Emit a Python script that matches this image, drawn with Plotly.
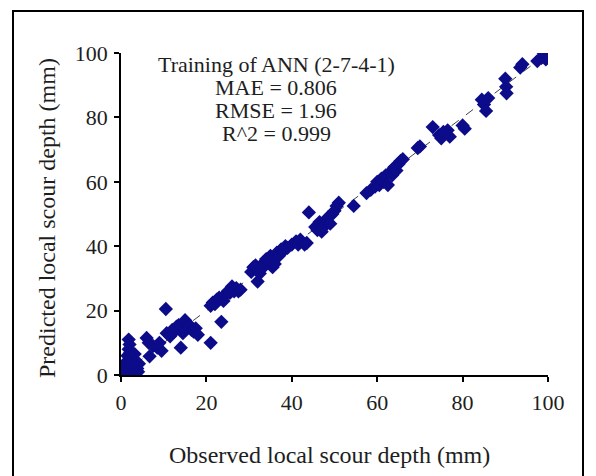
import plotly.graph_objects as go

# observed vs predicted local scour depth (mm)
observed = [
    0, 0.5, 1, 1.2, 1.5, 1.8, 1.8, 2, 2.2, 2.5, 2.8, 3, 3.2, 3.5, 3.8, 4, 4.2, 2.5, 3.5, 1,
    6, 6.5, 6.7, 7.5, 8.5, 9.5, 9,
    10.5, 10.7, 11.5, 12, 12.5, 13, 13.5, 14, 14.5, 15, 15.5, 16, 16.5, 17, 17.5, 18,
    21, 21, 21.5, 22, 22.5, 23, 23.5, 24, 24.5, 25, 25.5, 26, 26.5, 27, 27.5, 28,
    30.5, 31, 31.5, 32, 32.5, 33, 33.5, 34, 34.5, 35, 35.5, 36, 36.5, 37, 37.5, 38,
    38.5, 39, 40, 41, 41.5, 42, 43, 43.5,
    44, 45.5, 46, 46.5, 47, 47.5, 48, 48.5, 49, 49.5, 50, 50.5, 51,
    54.5, 57.5, 58.5, 59.5, 60, 60.5, 61, 61.5, 62, 62.5, 63, 63.5, 64, 64.5, 65, 65.5, 66,
    69.5, 70, 73, 74.5, 75, 75.5, 76.5, 77, 80, 80.5,
    84.5, 85, 85.5, 86, 90, 90.2, 90.3, 93.5, 94, 97.5, 98.5, 99, 99.5, 100,
]
predicted = [
    0.5, 1, 2.5, 4, 6, 8, 11, 9.5, 7, 5, 3, 1.5, 6.5, 4, 2, 1, 3.5, 0.5, 0.5, 0.8,
    11.5, 10, 5.8, 9, 8.5, 7.5, 10,
    20.5, 13, 12, 14, 13.5, 15, 15.5, 8.5, 13, 17, 16, 15.5, 14, 13.5, 14.5, 12.5,
    10, 21.5, 22.5, 22, 23.5, 24, 16.5, 23, 25, 26, 25.5, 27.5, 26, 27, 26, 26.5,
    32, 33.5, 34, 29, 31.5, 33, 35, 36, 35.5, 37, 33.5, 34.5, 38, 37, 39, 38.5,
    40, 39.5, 40.5, 41.5, 40.5, 42, 40.5, 41,
    50.5, 46, 45, 47.5, 44.5, 46, 48, 49, 47, 50, 51, 52.5, 53.5,
    52.5, 56.5, 57.5, 58.5, 60, 59, 61, 60, 62, 59, 63, 62, 64.5, 63.5, 65.5, 66.5, 67,
    70.5, 71, 77, 74.5, 73.5, 75.5, 76, 74, 77.5, 76.5,
    85.5, 84, 82, 86, 92, 89.5, 87.5, 95.5, 96.5, 97.5, 98.5, 100, 98, 99,
]
line_x = [0, 100]
tick_vals = [0, 20, 40, 60, 80, 100]
stats_lines = ["Training of ANN (2-7-4-1)", "MAE = 0.806", "RMSE = 1.96", "R^2 = 0.999"]

W, H = 596, 476
L, R, T, B = 121, 48, 53, 101
pw, ph = W - L - R, H - T - B


def px(x):
    return (x - L) / pw


def py(y):
    return (H - B - y) / ph


serif = "Liberation Serif"
ink = "#1e1e1e"

fig = go.Figure()

fig.add_trace(
    go.Scatter(
        x=line_x,
        y=line_x,
        mode="lines",
        line=dict(color="#444444", width=1, dash="dash"),
        hoverinfo="skip",
    )
)

fig.add_trace(
    go.Scatter(
        x=observed,
        y=predicted,
        mode="markers",
        marker=dict(symbol="diamond", size=11, color="#0c0c8a", line=dict(width=0)),
    )
)

axis_style = dict(
    range=[0, 100],
    tickvals=tick_vals,
    ticks="outside",
    ticklen=5,
    tickwidth=1.5,
    tickcolor="black",
    showline=True,
    linecolor="black",
    linewidth=1.5,
    showgrid=False,
    zeroline=False,
    tickfont=dict(family=serif, size=22, color=ink),
)

fig.update_layout(
    width=W,
    height=H,
    margin=dict(l=L, r=R, t=T, b=B),
    paper_bgcolor="white",
    plot_bgcolor="white",
    showlegend=False,
    xaxis=dict(axis_style),
    yaxis=dict(axis_style),
)
fig.update_xaxes(ticklabelstandoff=2)
fig.update_yaxes(ticklabelstandoff=2)

# outer frame
fig.add_shape(
    type="rect", xref="paper", yref="paper",
    x0=px(13), x1=px(583), y0=py(485), y1=py(11),
    line=dict(color="black", width=2),
)

# stats text block
for i, txt in enumerate(stats_lines):
    fig.add_annotation(
        xref="paper", yref="paper", x=px(276), y=py(64 + 23.3 * i),
        text=txt, showarrow=False, xanchor="center", yanchor="middle",
        font=dict(family=serif, size=22, color=ink),
    )

fig.add_annotation(
    xref="paper", yref="paper", x=px(329), y=py(455),
    text="Observed local scour depth (mm)", showarrow=False,
    xanchor="center", yanchor="middle",
    font=dict(family=serif, size=24, color=ink),
)
fig.add_annotation(
    xref="paper", yref="paper", x=px(47), y=py(218),
    text="Predicted local scour depth (mm)", showarrow=False, textangle=-90,
    xanchor="center", yanchor="middle",
    font=dict(family=serif, size=24, color=ink),
)

fig.write_html(
    "out.html",
    config={"displayModeBar": False},
    post_script="document.body.style.margin='0';",
)
